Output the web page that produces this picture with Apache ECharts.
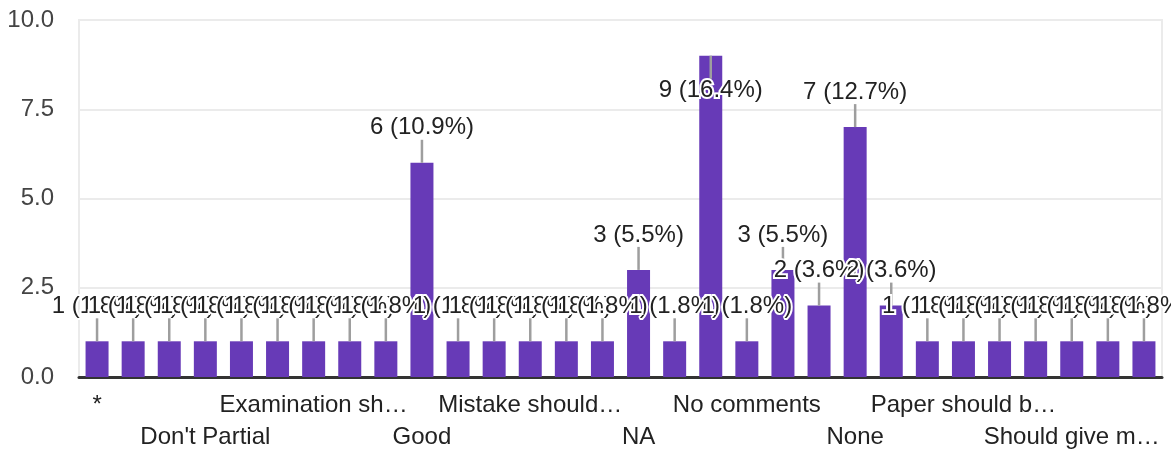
<!DOCTYPE html>
<html>
<head>
<meta charset="utf-8">
<script src="https://cdn.jsdelivr.net/npm/echarts@6/dist/echarts.min.js"></script>
<style>
html,body{margin:0;padding:0;background:#fff;}
#chart{width:1171px;height:452px;}
</style>
</head>
<body>
<div id="chart"></div>
<script>
const categories = [
  "*", "All good", "Best", "Don't Partial", "Easy", "Everything is fine",
  "Examination sh…", "Excellent", "Fine", "Good", "Improve teaching", "Marks should be given",
  "Mistake should…", "More time", "Mostly good", "NA", "Nice", "No",
  "No comments", "No suggestion", "No suggestions", "None", "Nothing", "Ok",
  "Paper should b…", "Practical exams", "Questions were easy", "Should give m…", "Syllabus is long", "Very good"
];
const counts = [1,1,1,1,1,1,1,1,1,6,1,1,1,1,1,3,1,9,1,3,2,7,2,1,1,1,1,1,1,1];
const yMin = 0;
const yMax = 10;
const yStep = 2.5;

const total = counts.reduce((a, b) => a + b, 0);
const FONT = '"Liberation Sans", Arial, sans-serif';
const chart = echarts.init(document.getElementById('chart'), null, {renderer: 'canvas'});

chart.setOption({
  animation: false,
  backgroundColor: '#fff',
  grid: {
    left: 79, right: 9, top: 20, bottom: 75,
    show: true, borderColor: '#ebebeb', borderWidth: 2,
    containLabel: false, outerBoundsMode: 'none'
  },
  xAxis: {
    type: 'category',
    data: categories,
    axisLine: {show: true, lineStyle: {color: '#333', width: 3}},
    axisTick: {show: false},
    axisLabel: {
      interval: 0,
      showMinLabel: true,
      showMaxLabel: true,
      margin: 12,
      fontSize: 24,
      lineHeight: 32,
      fontFamily: FONT,
      color: '#222',
      formatter: (value, index) => {
        if (index % 3 !== 0) return '';
        return (index / 3) % 2 === 1 ? '\n' + value : value;
      }
    },
    splitLine: {show: false}
  },
  yAxis: {
    type: 'value',
    min: yMin, max: yMax, interval: yStep,
    axisLine: {show: false},
    axisTick: {show: false},
    axisLabel: {
      margin: 25,
      fontSize: 24,
      fontFamily: FONT,
      color: '#444',
      formatter: v => v.toFixed(1)
    },
    splitLine: {show: true, lineStyle: {color: '#ebebeb', width: 2}}
  },
  series: [
    {
      type: 'bar',
      data: counts,
      barWidth: 23,
      itemStyle: {color: '#673AB7'},
      z: 2
    },
    {
      type: 'custom',
      data: counts.map((v, i) => [i, v]),
      encode: {x: 0, y: 1},
      z: 5,
      renderItem: (params, api) => {
        const i = api.value(0);
        const v = api.value(1);
        const top = api.coord([i, v]);
        const gridTop = params.coordSys.y;
        const L = 23;
        const flip = top[1] - L - 24 < gridTop;
        const y2 = flip ? top[1] + L : top[1] - L;
        const text = v + ' (' + (v / total * 100).toFixed(1) + '%)';
        return {
          type: 'group',
          children: [
            {
              type: 'line',
              shape: {x1: top[0], y1: top[1], x2: top[0], y2: y2},
              style: {stroke: '#9e9e9e', lineWidth: 2.5}
            },
            {
              type: 'text',
              x: top[0],
              y: y2,
              style: {
                text: text,
                fill: '#222',
                fontSize: 24,
                fontFamily: FONT,
                align: 'center',
                verticalAlign: flip ? 'top' : 'bottom',
                stroke: '#fff',
                lineWidth: 4
              }
            }
          ]
        };
      }
    }
  ]
});
</script>
</body>
</html>
